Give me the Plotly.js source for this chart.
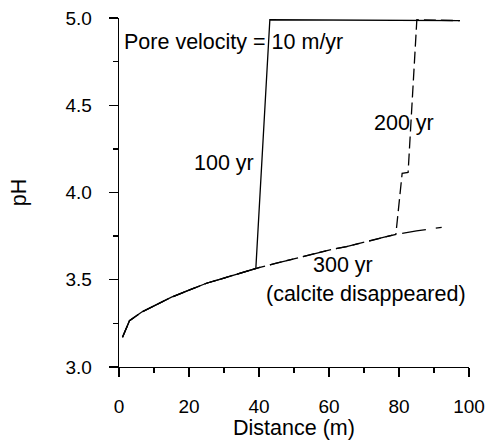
<!DOCTYPE html>
<html>
<head>
<meta charset="utf-8">
<script src="https://cdn.plot.ly/plotly-3.0.1.min.js"></script>
<style>html,body{margin:0;padding:0;background:#fff;}#chart{width:487px;height:440px;}</style>
</head>
<body>
<div id="chart"></div>
<script>
// 100 yr profile
var x100 = [1.0, 3.0, 6.5, 10, 15, 20, 25, 30, 35, 39.1, 43.1, 97.4];
var y100 = [3.17, 3.265, 3.315, 3.35, 3.40, 3.44, 3.48, 3.51, 3.54, 3.565, 4.99, 4.985];
// 200 yr profile
var x200 = [1.0, 3.0, 6.5, 10, 15, 20, 25, 30, 35, 40, 45, 50, 55, 60, 65, 70, 75, 79.1, 80.9, 82.6, 85.1, 97.4];
var y200 = [3.17, 3.265, 3.315, 3.35, 3.40, 3.44, 3.48, 3.51, 3.54, 3.57, 3.595, 3.62, 3.645, 3.67, 3.69, 3.715, 3.74, 3.76, 4.11, 4.115, 4.99, 4.985];
// 300 yr profile
var x300 = [1.0, 3.0, 6.5, 10, 15, 20, 25, 30, 35, 40, 45, 50, 55, 60, 65, 70, 75, 79, 85, 92.2];
var y300 = [3.17, 3.265, 3.315, 3.35, 3.40, 3.44, 3.48, 3.51, 3.54, 3.57, 3.595, 3.62, 3.645, 3.67, 3.69, 3.715, 3.74, 3.76, 3.78, 3.80];

var labels = ["Pore velocity = 10 m/yr", "100 yr", "200 yr", "300 yr", "(calcite disappeared)"];
var labelX = [1.2, 38.9, 81.4, 64, 70.6];
var labelY = [4.86, 4.17, 4.40, 3.585, 3.42];
var labelAnchor = ["left", "right", "center", "center", "center"];

var FONT = "Liberation Sans, Arial, sans-serif";
var TICKFS = 19;
var FS = 21.5;

var traces = [
  {x: x300, y: y300, mode: "lines", line: {color: "#000", width: 1.3, dash: "24px,10px"}, hoverinfo: "skip"},
  {x: x200, y: y200, mode: "lines", line: {color: "#000", width: 1.3, dash: "12px,5px"}, hoverinfo: "skip"},
  {x: x100, y: y100, mode: "lines", line: {color: "#000", width: 1.3}, hoverinfo: "skip"}
];

var annotations = labels.map(function (t, i) {
  return {x: labelX[i], y: labelY[i], xref: "x", yref: "y", text: t, showarrow: false,
          xanchor: labelAnchor[i], yanchor: "middle", borderpad: 0,
          font: {family: FONT, size: FS, color: "#000"}};
});

var layout = {
  width: 487, height: 440,
  margin: {l: 119, r: 18, t: 18, b: 73},
  paper_bgcolor: "#fff", plot_bgcolor: "#fff",
  showlegend: false,
  font: {family: FONT, size: FS, color: "#000"},
  xaxis: {
    range: [0, 100], tickvals: [0, 20, 40, 60, 80, 100], ticktext: ["0", "20", "40", "60", "80", "100"],
    ticks: "outside", ticklen: 9, tickwidth: 1.4, tickcolor: "#000", ticklabelstandoff: 13,
    minor: {tickvals: [10, 30, 50, 70, 90], ticks: "outside", ticklen: 5, tickwidth: 1.4, tickcolor: "#000"},
    showline: true, linecolor: "#000", linewidth: 1.4, showgrid: false, zeroline: false,
    title: {text: "Distance (m)", font: {family: FONT, size: FS}, standoff: 9},
    tickfont: {family: FONT, size: TICKFS}
  },
  yaxis: {
    range: [3.0, 5.0], tickvals: [3.0, 3.5, 4.0, 4.5, 5.0], ticktext: ["3.0", "3.5", "4.0", "4.5", "5.0"],
    ticks: "outside", ticklen: 9, tickwidth: 1.4, tickcolor: "#000", ticklabelstandoff: 13,
    minor: {tickvals: [3.25, 3.75, 4.25, 4.75], ticks: "outside", ticklen: 5, tickwidth: 1.4, tickcolor: "#000"},
    showline: true, linecolor: "#000", linewidth: 1.4, showgrid: false, zeroline: false,
    title: {text: "pH", font: {family: FONT, size: FS}, standoff: 33},
    tickfont: {family: FONT, size: TICKFS}
  },
  annotations: annotations
};

Plotly.newPlot("chart", traces, layout, {displayModeBar: false, staticPlot: true});
</script>
</body>
</html>
